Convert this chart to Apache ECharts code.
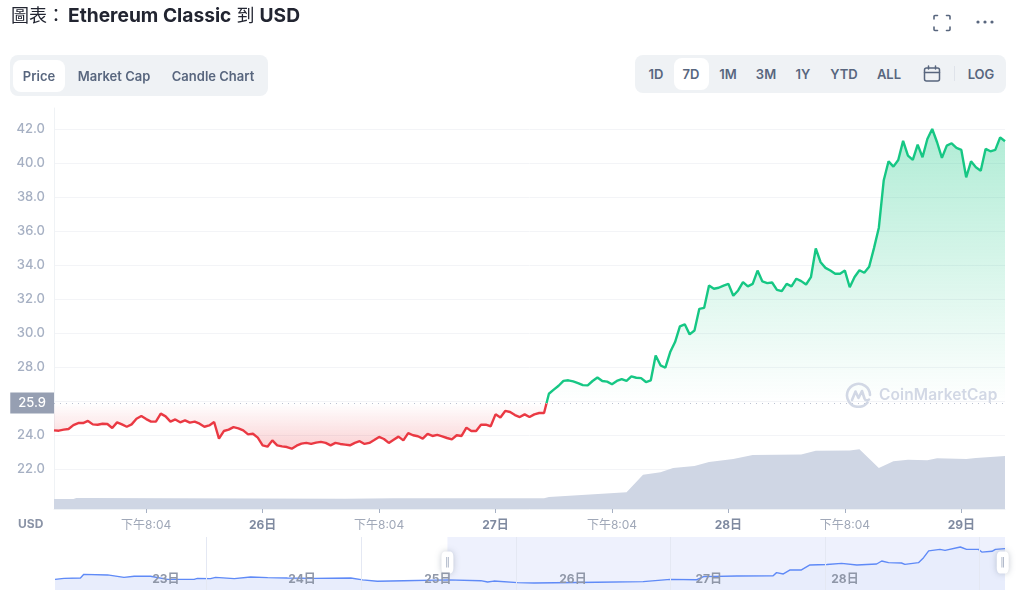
<!DOCTYPE html>
<html>
<head>
<meta charset="utf-8">
<script src="https://cdn.jsdelivr.net/npm/echarts@6/dist/echarts.min.js"></script>
<style>
  html, body { margin: 0; padding: 0; background: #fff; }
  body { width: 1024px; height: 604px; position: relative; overflow: hidden; font-family: Inter, "Noto Sans CJK TC", sans-serif; }
  #chart { position: absolute; left: 0; top: 0; width: 1024px; height: 604px; }
  .title { position: absolute; left: 11px; top: 2px; font-size: 18px; line-height: 26px; color: #222531; white-space: nowrap; }
  .title b { font-weight: 700; font-size: 19.2px; }
  .panel { position: absolute; background: #eff2f5; border-radius: 8px; }
  .active { position: absolute; background: #fff; border-radius: 8px; }
  .btn { position: absolute; font-size: 13px; font-weight: 600; color: #58667e; transform: translateX(-50%); white-space: nowrap; line-height: 16px; }
  .icon { position: absolute; }
  .usd { position: absolute; left: 18px; top: 517px; font-size: 12px; font-weight: 700; line-height: 14px; color: #8a93a6; }
  .mark { position: absolute; left: 844px; top: 382px; width: 156px; height: 26px; color: #d2d8e5; pointer-events: none; }
  .mark span { position: absolute; left: 35px; top: 2px; font-size: 15.5px; font-weight: 600; line-height: 22px; letter-spacing: .1px; }
</style>
</head>
<body>
<div id="chart"></div>

<div class="title">圖表：<b style="margin-left:3px">Ethereum Classic</b> 到 <b>USD</b></div>

<svg class="icon" style="left:932px;top:14px" width="20" height="18" viewBox="0 0 20 18" fill="none" stroke="#58667e" stroke-width="1.6" stroke-linecap="round">
  <path d="M2 5V2.5A1 1 0 0 1 3 1.5H5.5M14.5 1.5H17A1 1 0 0 1 18 2.5V5M18 13V15.5A1 1 0 0 1 17 16.5H14.5M5.5 16.5H3A1 1 0 0 1 2 15.5V13"/>
</svg>
<svg class="icon" style="left:975px;top:19px" width="20" height="6" viewBox="0 0 20 6" fill="#58667e">
  <circle cx="3" cy="3" r="1.6"/><circle cx="10" cy="3" r="1.6"/><circle cx="17" cy="3" r="1.6"/>
</svg>

<div class="panel" style="left:10px;top:55px;width:258px;height:41px"></div>
<div class="active" style="left:13px;top:60px;width:52px;height:32px"></div>
<div class="btn" style="left:39px;top:68px">Price</div>
<div class="btn" style="left:114px;top:68px">Market Cap</div>
<div class="btn" style="left:213px;top:68px">Candle Chart</div>

<div class="panel" style="left:635px;top:55px;width:371px;height:38px"></div>
<div class="active" style="left:674px;top:58px;width:35px;height:32px"></div>
<div class="btn" style="left:656px;top:66px">1D</div>
<div class="btn" style="left:691px;top:66px">7D</div>
<div class="btn" style="left:728px;top:66px">1M</div>
<div class="btn" style="left:766px;top:66px">3M</div>
<div class="btn" style="left:803px;top:66px">1Y</div>
<div class="btn" style="left:844px;top:66px">YTD</div>
<div class="btn" style="left:889px;top:66px">ALL</div>
<svg class="icon" style="left:923px;top:65px" width="18" height="18" viewBox="0 0 18 18" fill="none" stroke="#58667e" stroke-width="1.5" stroke-linecap="round">
  <rect x="1.5" y="3" width="15" height="13" rx="2"/><path d="M1.5 7.5H16.5M5.5 1V4M12.5 1V4"/>
</svg>
<div class="icon" style="left:954px;top:66px;width:1px;height:15px;background:#dfe3ea"></div>
<div class="btn" style="left:981px;top:66px">LOG</div>

<div class="usd">USD</div>

<div class="mark">
  <svg width="28" height="26" viewBox="0 0 28 26" fill="none" stroke="#d2d8e5" stroke-width="2.6" stroke-linecap="round" stroke-linejoin="round" style="position:absolute;left:1px;top:0">
    <path d="M22.5 20.5A11.5 11.5 0 1 1 25 13"/>
    <path d="M7 18L10.5 9.5L13.5 16L17 9L19.5 16.5C20.5 19 22.5 18.5 24 17.5"/>
  </svg>
  <span>CoinMarketCap</span>
</div>

<script>
// hours since the left edge of the main chart, one price every half hour
const priceStepHours = 0.5
const basePrice = 25.9
const priceValues = [
  24.29, 24.27, 24.33, 24.37, 24.60, 24.72, 24.72, 24.84, 24.64, 24.62,
  24.68, 24.66, 24.43, 24.76, 24.64, 24.50, 24.64, 24.97, 25.13, 24.95,
  24.80, 24.80, 25.27, 25.11, 24.80, 24.93, 24.76, 24.88, 24.74, 24.80,
  24.68, 24.50, 24.58, 24.78, 23.80, 24.25, 24.33, 24.48, 24.41, 24.29,
  24.05, 24.09, 23.86, 23.41, 23.33, 23.70, 23.41, 23.35, 23.31, 23.21,
  23.39, 23.51, 23.55, 23.49, 23.57, 23.61, 23.55, 23.41, 23.55, 23.49,
  23.45, 23.41, 23.55, 23.65, 23.49, 23.55, 23.72, 23.90, 23.78, 23.55,
  23.74, 23.92, 23.70, 24.13, 24.00, 23.94, 23.80, 24.08, 23.96, 24.02,
  23.94, 23.84, 23.76, 24.00, 23.96, 24.45, 24.25, 24.25, 24.62, 24.62,
  24.53, 25.23, 25.04, 25.43, 25.37, 25.19, 25.07, 25.23, 25.07, 25.23,
  25.31, 25.31, 26.44, 26.68, 26.91, 27.20, 27.23, 27.17, 27.07, 26.95,
  26.93, 27.19, 27.40, 27.19, 27.15, 27.00, 27.19, 27.30, 27.19, 27.46,
  27.38, 27.36, 27.13, 27.23, 28.69, 28.11, 27.97, 28.89, 29.48, 30.40,
  30.52, 29.93, 30.16, 31.43, 31.49, 32.80, 32.61, 32.67, 32.80, 32.90,
  32.20, 32.51, 33.00, 32.75, 32.90, 33.68, 33.04, 32.94, 32.98, 32.55,
  32.47, 32.90, 32.75, 33.20, 33.06, 32.86, 33.29, 34.98, 34.17, 33.84,
  33.68, 33.49, 33.49, 33.68, 32.70, 33.30, 33.70, 33.55, 33.90, 35.00,
  36.20, 38.97, 40.10, 39.79, 40.18, 41.30, 40.44, 40.18, 41.08, 40.34,
  41.41, 42.00, 41.22, 40.30, 41.02, 41.16, 40.89, 40.77, 39.16, 40.10,
  39.75, 39.55, 40.83, 40.69, 40.77, 41.51, 41.28
]

const volumeHours = [0, 2, 2.3, 3.4, 3.6, 30, 35, 50.5, 51, 59, 60.7, 62.5, 63.8, 66, 67.5, 70, 72, 77, 78.5, 82, 83, 85, 86.5, 88, 90, 91, 94, 95, 98]
const volumeValues = [10, 10, 11, 11, 10, 10.3, 10.7, 10.7, 12, 16.7, 34.3, 36.7, 41, 43, 47, 50, 54, 54.5, 58.3, 58.5, 59.7, 41, 47.7, 49.3, 48.7, 50.7, 50, 51, 53]

const xTickHours = [9.5, 21.5, 33.5, 45.5, 57.5, 69.5, 81.5, 93.5]
const xTickLabels = ['下午8:04', '26日', '下午8:04', '27日', '下午8:04', '28日', '下午8:04', '29日']
const yLines = [22, 24, 26, 28, 30, 32, 34, 36, 38, 40, 42]
// 26.0 sits behind the 25.9 tag
const yLabels = [22, 24, 28, 30, 32, 34, 36, 38, 40, 42]

// navigator strip, a longer range than the main chart
const navHours = [
  0, 1.6, 4.5, 5.1, 9.3, 12.2, 14, 16.9, 19.9, 24.6, 25.2, 27.5, 28.4, 31.7, 34.6, 37.6, 41.1, 45.8, 52.3, 54.4, 57,
  61.7, 69.4, 75.3, 76.5, 77.6, 81.8, 84.7, 95.8, 104, 108.8, 113.5, 114.7, 120.6, 127, 127.6, 128.8, 130, 132, 133.5,
  136.5, 139.1, 141.8, 145.3, 146.2, 147.4, 149.7, 150.3, 152.7, 153.6, 154.5, 156.5, 157.4, 160.1, 161.2, 163.3,
  163.9, 165.7, 166.3, 168
]
const navValues = [
  25.3, 25.8, 26, 27.9, 27.6, 26.35, 26.9, 26.9, 25.3, 25.3, 25.8, 25.65, 26.35, 25.65, 26.5, 26.2, 26, 25.8, 26, 25, 24.3,
  24.6, 25, 24.6, 23.9, 24.4, 23.6, 23.4, 23.75, 24.1, 25.3, 25.1, 26.7, 27.05, 27.2, 28.8, 28.1, 30.2, 30.2, 32.8,
  33, 33.6, 32.8, 33.3, 34.85, 34, 33.8, 33.1, 34, 36.6, 40.1, 40.9, 40.4, 42.15, 40.9, 40.9,
  39.5, 39.9, 40.9, 41.3
]
const navLineHours = [26.7, 54.1, 81.5, 108.8, 136.2, 163.4]
const navLabelHours = [19.6, 43.7, 67.7, 91.6, 115.6, 139.7]
const navLabels = ['23日', '24日', '25日', '26日', '27日', '28日']
const navWindow = [69.4, 168]

const gridLine = '#f3f4f7'
const axisColor = '#a6b0c3'
const green = '#16c784'
const red = '#ea3943'

const gridTop = 108
const gridBottomY = 509
const greenTopY = 128
const baseY = 403
const redEndY = 450
const baseStop = (baseY - greenTopY) / (redEndY - greenTopY)

// the line and its fill both change colour at the 25.9 base price
const lineGradient = new echarts.graphic.LinearGradient(0, greenTopY, 0, redEndY, [
  { offset: 0, color: green },
  { offset: baseStop, color: green },
  { offset: baseStop, color: red },
  { offset: 1, color: red }
], true)
const areaGradient = new echarts.graphic.LinearGradient(0, greenTopY, 0, redEndY, [
  { offset: 0, color: 'rgba(22,199,132,0.34)' },
  { offset: baseStop, color: 'rgba(22,199,132,0)' },
  { offset: baseStop, color: 'rgba(234,57,67,0)' },
  { offset: 1, color: 'rgba(234,57,67,0.24)' }
], true)

const chart = echarts.init(document.getElementById('chart'), null, { renderer: 'canvas' })

chart.setOption({
  animation: false,
  textStyle: { fontFamily: 'Inter, "Noto Sans CJK TC", sans-serif' },
  grid: [
    { left: 54, right: 19, top: gridTop, height: gridBottomY - gridTop },
    { left: 55, right: 19, top: 537, height: 53 }
  ],
  xAxis: [
    {
      type: 'value', gridIndex: 0, min: 0, max: 98,
      splitLine: { show: false },
      axisLine: { show: true, lineStyle: { color: '#eff2f5' } },
      axisTick: { show: true, customValues: xTickHours, length: 4, lineStyle: { color: '#a6b0c3' } },
      axisLabel: {
        customValues: xTickHours, margin: 10, fontSize: 12, color: '#a0a8b8',
        formatter: v => {
          const text = xTickLabels[xTickHours.indexOf(v)]
          return text.endsWith('日') ? `{day|${text}}` : text
        },
        rich: { day: { fontWeight: 700, color: '#7f8aa0', fontSize: 12 } }
      }
    },
    {
      type: 'value', gridIndex: 1, min: 0, max: 168, z: 5,
      splitLine: { show: true, lineStyle: { color: '#e4e8f3' } },
      axisLine: { show: false },
      axisTick: { show: false, customValues: navLineHours },
      axisLabel: {
        inside: true, margin: 5, fontSize: 12, fontWeight: 700, color: '#8f97a8',
        customValues: navLabelHours,
        formatter: v => navLabels[navLabelHours.indexOf(v)]
      }
    }
  ],
  yAxis: [
    {
      type: 'value', gridIndex: 0, min: 19.667, max: 43.234,
      axisLine: { show: true, lineStyle: { color: '#eff2f5' } },
      axisTick: { show: false, customValues: yLines },
      splitLine: { show: true, lineStyle: { color: gridLine } },
      axisLabel: {
        customValues: yLabels, margin: 9, fontSize: 13, fontWeight: 500, color: axisColor,
        formatter: v => v.toFixed(1)
      }
    },
    {
      // volume only fills the bottom of the main grid
      type: 'value', gridIndex: 0, min: 0, max: gridBottomY - gridTop,
      axisLine: { show: false }, axisTick: { show: false },
      axisLabel: { show: false }, splitLine: { show: false }
    },
    {
      type: 'value', gridIndex: 1, min: 19.75, max: 47.35,
      axisLine: { show: false }, axisTick: { show: false },
      axisLabel: { show: false }, splitLine: { show: false }
    }
  ],
  series: [
    {
      name: 'Price', type: 'line', xAxisIndex: 0, yAxisIndex: 0, z: 4,
      data: priceValues.map((v, i) => [i * priceStepHours, v]),
      showSymbol: false,
      lineStyle: { width: 2.4, color: lineGradient },
      areaStyle: { origin: basePrice, color: areaGradient, opacity: 1 },
      markLine: {
        silent: true, symbol: 'none', animation: false,
        lineStyle: { type: [1, 5], color: '#bcc3d2', width: 1 },
        label: {
          position: 'start', distance: 0, formatter: basePrice.toFixed(1),
          color: '#fff', backgroundColor: '#969fb2', fontSize: 13, fontWeight: 500,
          padding: [4, 8, 4, 8]
        },
        data: [{ yAxis: basePrice }]
      }
    },
    {
      name: 'Volume', type: 'line', xAxisIndex: 0, yAxisIndex: 1, z: 2,
      data: volumeHours.map((h, i) => [h, volumeValues[i]]),
      showSymbol: false,
      lineStyle: { width: 0 },
      itemStyle: { color: '#cfd6e4' },
      areaStyle: { color: '#cfd6e4', opacity: 1 }
    },
    {
      name: 'Navigator', type: 'line', xAxisIndex: 1, yAxisIndex: 2, z: 3,
      data: navHours.map((h, i) => [h, navValues[i]]),
      showSymbol: false,
      lineStyle: { width: 1.4, color: '#5f8af7' },
      itemStyle: { color: '#5f8af7' },
      areaStyle: { color: '#e8edfc', opacity: 1 },
      markArea: {
        silent: true,
        itemStyle: { color: 'rgba(96,128,240,0.11)' },
        data: [[{ xAxis: navWindow[0] }, { xAxis: navWindow[1] }]]
      },
      markPoint: {
        silent: true, symbol: 'roundRect', symbolSize: [12, 22],
        itemStyle: { color: '#fff', shadowBlur: 6, shadowColor: 'rgba(88,102,126,0.35)' },
        label: { show: true, formatter: '‖', color: '#a6b0c3', fontSize: 10, fontFamily: 'DejaVu Sans' },
        data: [
          { coord: [navWindow[0], 34.1] },
          { coord: [167.6, 34.1] }
        ]
      }
    }
  ]
})
</script>
</body>
</html>
